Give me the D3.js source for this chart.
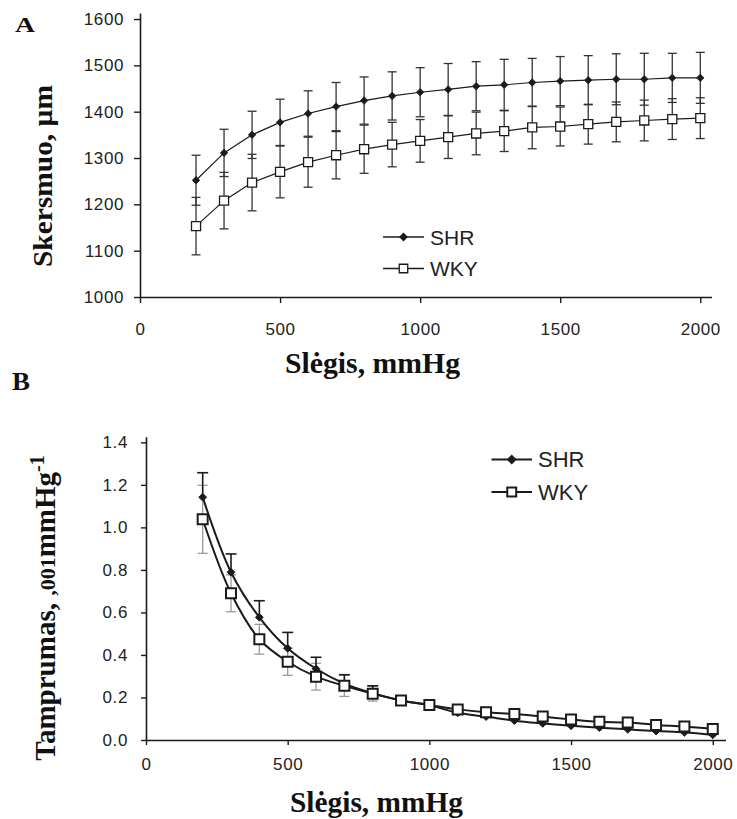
<!DOCTYPE html>
<html>
<head>
<meta charset="utf-8">
<script src="https://cdn.jsdelivr.net/npm/d3@7"></script>
<style>
  body { margin: 0; background: #fff; }
  svg { display: block; }
</style>
</head>
<body>
<svg id="chart" width="737" height="819"></svg>
<script>
// pressure steps, mmHg
const pressure = [200, 300, 400, 500, 600, 700, 800, 900, 1000, 1100, 1200, 1300, 1400, 1500, 1600, 1700, 1800, 1900, 2000];

// panel A - diameter, um
const shrDiam    = [1252, 1311, 1350, 1377, 1396, 1411, 1424, 1434, 1442, 1448, 1455, 1458, 1463, 1466, 1468, 1470, 1470, 1473, 1473];
const shrDiamErr = [54, 51, 51, 50, 49, 52, 51, 52, 53, 56, 53, 55, 52, 53, 53, 55, 56, 53, 55];
const wkyDiam    = [1153, 1208, 1247, 1270, 1291, 1306, 1319, 1329, 1337, 1345, 1353, 1358, 1366, 1368, 1373, 1378, 1381, 1384, 1386];
const wkyDiamErr = [62, 61, 61, 56, 54, 51, 52, 48, 46, 46, 46, 44, 46, 42, 43, 43, 44, 44, 44];

// panel B - compliance
const shrComp    = [1.142, 0.789, 0.577, 0.431, 0.335, 0.265, 0.22, 0.186, 0.163, 0.128, 0.11, 0.091, 0.078, 0.067, 0.058, 0.05, 0.042, 0.036, 0.024];
const shrCompErr = [0.115, 0.086, 0.078, 0.075, 0.054, 0.042, 0.035, 0.02, 0.018, 0.015, 0.012, 0.01, 0.01, 0.01, 0.008, 0.008, 0.008, 0.008, 0.008];
const wkyComp    = [1.038, 0.69, 0.474, 0.368, 0.298, 0.255, 0.218, 0.186, 0.165, 0.144, 0.13, 0.122, 0.11, 0.097, 0.086, 0.082, 0.071, 0.063, 0.052];
const wkyCompErr = [0.16, 0.087, 0.07, 0.064, 0.063, 0.05, 0.035, 0.02, 0.018, 0.015, 0.012, 0.01, 0.01, 0.01, 0.008, 0.008, 0.008, 0.008, 0.008];

const xTicks  = [0, 500, 1000, 1500, 2000];
const aYTicks = [1000, 1100, 1200, 1300, 1400, 1500, 1600];
const bYTicks = [0, 0.2, 0.4, 0.6, 0.8, 1.0, 1.2, 1.4];
const seriesNames = ["SHR", "WKY"];

const svg = d3.select("#chart");
const ink = "#1b1b1b";
const serif = "'Liberation Serif', 'Times New Roman', serif";
const sans = "'Liberation Sans', Arial, sans-serif";

// square turned 45deg, d3.symbol custom type
const diamond = {
  draw(ctx, size) {
    const r = Math.sqrt(size) / 2;
    ctx.moveTo(0, -r); ctx.lineTo(r, 0); ctx.lineTo(0, r); ctx.lineTo(-r, 0); ctx.closePath();
  }
};
const square = {
  draw(ctx, size) {
    const r = Math.sqrt(size) / 2;
    ctx.rect(-r, -r, 2 * r, 2 * r);
  }
};

function styleAxis(g, fs) {
  g.select(".domain").attr("stroke", ink).attr("stroke-width", 1.6);
  g.selectAll(".tick line").attr("stroke", ink).attr("stroke-width", 1.4);
  g.selectAll(".tick text")
    .attr("fill", "#222")
    .style("font-family", sans)
    .style("font-size", fs + "px")
    .style("letter-spacing", "0.6px");
}

function drawErrors(g, x, y, vals, errs, opt) {
  const cap = opt.cap;
  pressure.forEach((p, i) => {
    const px = x(p);
    const lo = opt.down ? vals[i] - errs[i] : vals[i];
    const hi = opt.up ? vals[i] + errs[i] : vals[i];
    g.append("line").attr("x1", px).attr("x2", px).attr("y1", y(lo)).attr("y2", y(hi))
      .attr("stroke", opt.color).attr("stroke-width", opt.width);
    if (opt.up) g.append("line").attr("x1", px - cap).attr("x2", px + cap).attr("y1", y(hi)).attr("y2", y(hi))
      .attr("stroke", opt.color).attr("stroke-width", opt.width);
    if (opt.down) g.append("line").attr("x1", px - cap).attr("x2", px + cap).attr("y1", y(lo)).attr("y2", y(lo))
      .attr("stroke", opt.color).attr("stroke-width", opt.width);
  });
}

function drawMarkers(g, x, y, vals, kind, size, sw) {
  const sym = d3.symbol().type(kind === "diamond" ? diamond : square).size(size);
  g.selectAll(null).data(vals).join("path")
    .attr("transform", (d, i) => `translate(${x(pressure[i])},${y(d)})`)
    .attr("d", sym)
    .attr("fill", kind === "diamond" ? ink : "#fff")
    .attr("stroke", ink)
    .attr("stroke-width", sw);
}

function drawLegend(g, x0, x1, tx, ys, fs, diaSize, sqSize, sw) {
  const kinds = ["diamond", "square"];
  seriesNames.forEach((name, i) => {
    const yy = ys[i];
    g.append("line").attr("x1", x0).attr("x2", x1).attr("y1", yy).attr("y2", yy)
      .attr("stroke", ink).attr("stroke-width", sw);
    g.append("path")
      .attr("transform", `translate(${(x0 + x1) / 2},${yy})`)
      .attr("d", d3.symbol().type(kinds[i] === "diamond" ? diamond : square).size(kinds[i] === "diamond" ? diaSize : sqSize))
      .attr("fill", kinds[i] === "diamond" ? ink : "#fff")
      .attr("stroke", ink).attr("stroke-width", sw);
    g.append("text").attr("x", tx).attr("y", yy).attr("dy", "0.36em")
      .attr("fill", "#222")
      .style("font-family", sans).style("font-size", fs + "px")
      .text(name);
  });
}

// ---------- panel A ----------
const xA = d3.scaleLinear().domain([0, 2040]).range([140, 711.5]);
const yA = d3.scaleLinear().domain([1000, 1613]).range([297, 13]);
const gA = svg.append("g");

gA.append("g").attr("transform", "translate(0,297)")
  .call(d3.axisBottom(xA).tickValues(xTicks).tickFormat(d3.format("d")).tickSize(6).tickPadding(20).tickSizeOuter(0))
  .call(g => styleAxis(g, 17));
gA.append("g").attr("transform", "translate(140,0)")
  .call(d3.axisLeft(yA).tickValues(aYTicks).tickFormat(d3.format("d")).tickSize(6).tickPadding(10).tickSizeOuter(0))
  .call(g => styleAxis(g, 17));

drawErrors(gA, xA, yA, shrDiam, shrDiamErr, { up: true, down: true, cap: 4.5, color: "#333", width: 1.3 });
drawErrors(gA, xA, yA, wkyDiam, wkyDiamErr, { up: true, down: true, cap: 4.5, color: "#333", width: 1.3 });

const lineA = d3.line().x((d, i) => xA(pressure[i])).y(d => yA(d));
gA.append("path").datum(shrDiam).attr("d", lineA).attr("fill", "none").attr("stroke", ink).attr("stroke-width", 1.2);
gA.append("path").datum(wkyDiam).attr("d", lineA).attr("fill", "none").attr("stroke", ink).attr("stroke-width", 1.2);
drawMarkers(gA, xA, yA, shrDiam, "diamond", 55, 0.8);
drawMarkers(gA, xA, yA, wkyDiam, "square", 82, 1.3);

drawLegend(gA, 383, 424, 430, [237, 268.5], 21, 50, 72, 1.3);

gA.append("text").attr("x", 15).attr("y", 32)
  .attr("textLength", 20).attr("lengthAdjust", "spacingAndGlyphs")
  .style("font-family", serif).style("font-weight", "bold").style("font-size", "21px").attr("fill", "#111")
  .text("A");
gA.append("text").attr("x", 285).attr("y", 373)
  .attr("textLength", 175).attr("lengthAdjust", "spacingAndGlyphs")
  .style("font-family", serif).style("font-weight", "bold").style("font-size", "29px").attr("fill", "#111")
  .text("Slėgis, mmHg");
gA.append("text").attr("transform", "translate(52,176) rotate(-90)")
  .attr("text-anchor", "middle")
  .attr("textLength", 182).attr("lengthAdjust", "spacingAndGlyphs")
  .style("font-family", serif).style("font-weight", "bold").style("font-size", "28px").attr("fill", "#111")
  .text("Skersmuo, µm");

// ---------- panel B ----------
const xB = d3.scaleLinear().domain([0, 2045]).range([146, 725.5]);
const yB = d3.scaleLinear().domain([0, 1.426]).range([740, 436.8]);
const gB = svg.append("g");

gB.append("g").attr("transform", "translate(0,740)")
  .call(d3.axisBottom(xB).tickValues(xTicks).tickFormat(d3.format("d")).tickSize(5).tickPadding(13).tickSizeOuter(0))
  .call(g => styleAxis(g, 17));
gB.append("g").attr("transform", "translate(146,0)")
  .call(d3.axisLeft(yB).tickValues(bYTicks).tickFormat(d3.format(".1f")).tickSize(5).tickPadding(13).tickSizeOuter(0))
  .call(g => styleAxis(g, 17));

drawErrors(gB, xB, yB, wkyComp, wkyCompErr, { up: true, down: true, cap: 5, color: "#9a9a9a", width: 1.3 });
drawErrors(gB, xB, yB, shrComp, shrCompErr, { up: true, down: false, cap: 5.5, color: ink, width: 1.6 });

const lineB = d3.line().curve(d3.curveCatmullRom.alpha(0.5)).x((d, i) => xB(pressure[i])).y(d => yB(d));
gB.append("path").datum(shrComp).attr("d", lineB).attr("fill", "none").attr("stroke", ink).attr("stroke-width", 2);
gB.append("path").datum(wkyComp).attr("d", lineB).attr("fill", "none").attr("stroke", ink).attr("stroke-width", 2);
drawMarkers(gB, xB, yB, shrComp, "diamond", 60, 1);
drawMarkers(gB, xB, yB, wkyComp, "square", 100, 2);

drawLegend(gB, 491.5, 532, 538, [459.5, 492], 22, 50, 80, 2);

gB.append("text").attr("x", 12).attr("y", 390)
  .attr("textLength", 18).attr("lengthAdjust", "spacingAndGlyphs")
  .style("font-family", serif).style("font-weight", "bold").style("font-size", "26px").attr("fill", "#111")
  .text("B");
gB.append("text").attr("x", 290).attr("y", 812)
  .attr("textLength", 173).attr("lengthAdjust", "spacingAndGlyphs")
  .style("font-family", serif).style("font-weight", "bold").style("font-size", "29px").attr("fill", "#111")
  .text("Slėgis, mmHg");

const yTitleB = gB.append("text").attr("transform", "translate(55,608) rotate(-90)")
  .attr("text-anchor", "middle")
  .style("font-family", serif).style("font-weight", "bold").style("font-size", "29px").attr("fill", "#111");
yTitleB.append("tspan").text("Tamprumas, ");
yTitleB.append("tspan").style("font-size", "22px").text(",001");
yTitleB.append("tspan").text("mmHg");
yTitleB.append("tspan").attr("dy", "-0.55em").style("font-size", "20px").text("-1");
</script>
</body>
</html>
